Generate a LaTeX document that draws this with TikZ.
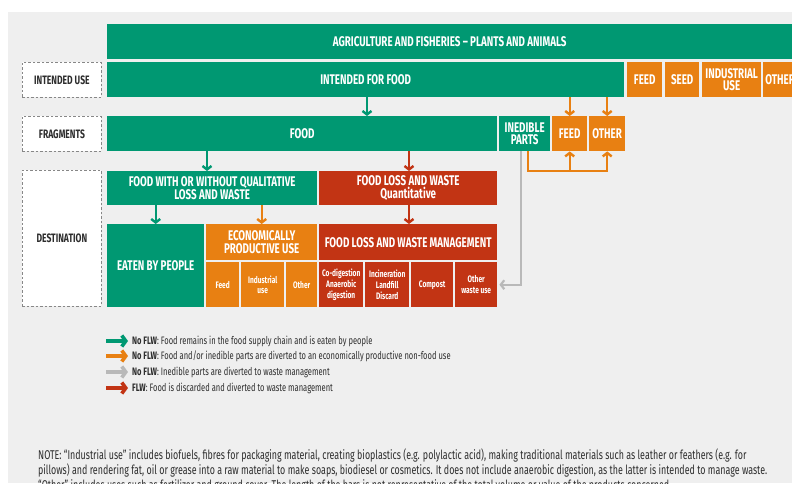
\documentclass[tikz,border=0pt]{standalone}
\usepackage{fontspec}
\setmainfont{Fira Sans}[FakeStretch=0.7]
\usetikzlibrary{arrows.meta}
\definecolor{fgreen}{RGB}{0,152,114}
\definecolor{forange}{RGB}{232,128,18}
\definecolor{fred}{RGB}{194,52,20}
\definecolor{bggray}{RGB}{239,239,239}
\definecolor{agray}{RGB}{185,185,185}
\definecolor{dgray}{RGB}{135,135,135}
\definecolor{txt}{RGB}{45,45,45}
\begin{document}
\begin{tikzpicture}[x=1pt,y=-1pt,
  bx/.style={anchor=north west, inner sep=0pt, text=white, align=center, font=\bfseries\fontsize{14}{12.5}\selectfont},
  gb/.style={bx, fill=fgreen},
  ob/.style={bx, fill=forange},
  rb/.style={bx, fill=fred},
  sm/.style={font=\bfseries\fontsize{9.4}{10.8}\selectfont},
  lab/.style={anchor=north west, inner sep=0pt, fill=white, draw=dgray, dash pattern=on 2.5pt off 2pt, line width=0.8pt, text=txt, font=\bfseries\fontsize{12.2}{12.5}\selectfont},
  arr/.style={line width=2.4pt, -{Straight Barb[length=3.5pt,width=9pt]}},
  garr/.style={arr, draw=fgreen},
  oarr/.style={arr, draw=forange},
  rarr/.style={arr, draw=fred},
  oline/.style={line width=2.4pt, draw=forange},
  grarr/.style={line width=2.2pt, draw=agray, -{Straight Barb[length=3.5pt,width=9pt]}},
  larr/.style={line width=3.6pt, -{Straight Barb[length=4pt,width=11pt]}},
  leg/.style={anchor=west, inner sep=0pt, text=txt, font=\fontsize{10.8}{12}\selectfont},
  note/.style={anchor=base west, inner sep=0pt, text=txt, font=\fontsize{12.7}{14}\selectfont}
]
\useasboundingbox (0,0) rectangle (792,483);
\fill[white] (0,0) rectangle (792,483);
\fill[bggray] (8,12) rectangle (792,483);

% row 1
\node[gb, minimum width=685pt, minimum height=35pt] (agri) at (107,24) {AGRICULTURE AND FISHERIES -- PLANTS AND ANIMALS};
% row 2
\node[lab, minimum width=79pt, minimum height=35pt] (iu) at (22,62) {INTENDED USE};
\node[gb, minimum width=517pt, minimum height=35pt] (ifood) at (107,62) {INTENDED FOR FOOD};
\node[ob, minimum width=35pt, minimum height=35pt] (feed1) at (627,62) {FEED};
\node[ob, minimum width=34pt, minimum height=35pt] (seed) at (665,62) {SEED};
\node[ob, minimum width=59pt, minimum height=35pt] (ind) at (702,62) {INDUSTRIAL\\USE};
\node[ob, minimum width=34pt, minimum height=35pt] (oth1) at (763,62) {OTHER};
% row 3
\node[lab, minimum width=79pt, minimum height=35pt] (fr) at (22,116) {FRAGMENTS};
\node[gb, minimum width=390pt, minimum height=35pt] (food) at (107,116) {FOOD};
\node[gb, minimum width=51pt, minimum height=35pt] (ined) at (499,116) {INEDIBLE\\PARTS};
\node[ob, minimum width=35pt, minimum height=35pt] (feed2) at (552,116) {FEED};
\node[ob, minimum width=36pt, minimum height=35pt] (oth2) at (589,116) {OTHER};
% row 4
\node[lab, minimum width=79pt, minimum height=136pt] (de) at (22,170) {DESTINATION};
\node[gb, minimum width=210pt, minimum height=34pt] (fww) at (107,171) {FOOD WITH OR WITHOUT QUALITATIVE\\LOSS AND WASTE};
\node[rb, minimum width=178pt, minimum height=34pt] (flq) at (319,171) {FOOD LOSS AND WASTE\\Quantitative};
% row 5
\node[gb, minimum width=97pt, minimum height=83pt] (eaten) at (107,224) {EATEN BY PEOPLE};
\node[ob, minimum width=111pt, minimum height=36pt] (econ) at (206,224) {ECONOMICALLY\\PRODUCTIVE USE};
\node[ob, sm, minimum width=33pt, minimum height=45pt] (efeed) at (206,262) {Feed};
\node[ob, sm, minimum width=43pt, minimum height=45pt] (eind) at (241,262) {Industrial\\use};
\node[ob, sm, minimum width=31pt, minimum height=45pt] (eoth) at (286,262) {Other};
\node[rb, minimum width=178pt, minimum height=36pt] (mgmt) at (319,224) {FOOD LOSS AND WASTE MANAGEMENT};
\node[rb, sm, minimum width=44pt, minimum height=45pt] (m1) at (319,262) {Co-digestion\\Anaerobic\\digestion};
\node[rb, sm, minimum width=44pt, minimum height=45pt] (m2) at (365,262) {Incineration\\Landfill\\Discard};
\node[rb, sm, minimum width=42pt, minimum height=45pt] (m3) at (411,262) {Compost};
\node[rb, sm, minimum width=42pt, minimum height=45pt] (m4) at (455,262) {Other\\waste use};

% helper x positions
\coordinate (x367) at (367,0);
\coordinate (x207) at (207,0);
\coordinate (x409) at (409,0);
\coordinate (x528) at (528,0);
\coordinate (x521) at (521,0);
\coordinate (y171) at (0,171);

% arrows
\draw[garr] (ifood.south -| x367) -- (food.north -| x367);
\draw[oarr] (ifood.south -| feed2) -- (feed2.north);
\draw[oarr] (ifood.south -| oth2) -- (oth2.north);
\draw[garr] (food.south -| x207) -- (fww.north -| x207);
\draw[rarr] (food.south -| x409) -- (flq.north -| x409);
\draw[garr] (fww.south -| eaten) -- (eaten.north);
\draw[oarr] (fww.south -| econ) -- (econ.north);
\draw[rarr] (flq.south -| x409) -- (mgmt.north -| x409);
% inedible parts bracket
\draw[oline, line join=miter] (ined.south -| x528) |- (oth2.south |- y171) -- ([yshift=1.2pt]oth2.south |- y171);
\draw[oarr] (oth2.south |- y171) -- (oth2.south);
\draw[oarr] (feed2.south |- y171) -- (feed2.south);
\draw[grarr, line join=miter] (ined.south -| x521) |- ([xshift=2pt]m4.east);

% legend
\node[leg] (t1) at (132,341) {\textbf{No FLW}: Food remains in the food supply chain and is eaten by people};
\node[leg] (t2) at (132,356) {\textbf{No FLW}: Food and/or inedible parts are diverted to an economically productive non-food use};
\node[leg] (t3) at (132,372) {\textbf{No FLW}: Inedible parts are diverted to waste management};
\node[leg] (t4) at (132,388) {\textbf{FLW}: Food is discarded and diverted to waste management};
\coordinate (l1) at (106,341);
\coordinate (l2) at (106,356);
\coordinate (l3) at (106,372);
\coordinate (l4) at (106,388);
\draw[larr, draw=fgreen] (l1) -- ([xshift=-4pt]t1.west);
\draw[larr, draw=forange] (l2) -- ([xshift=-4pt]t2.west);
\draw[larr, draw=agray] (l3) -- ([xshift=-4pt]t3.west);
\draw[larr, draw=fred] (l4) -- ([xshift=-4pt]t4.west);

% note
\node[note] (n1) at (38,459) {NOTE: “Industrial use” includes biofuels, fibres for packaging material, creating bioplastics (e.g. polylactic acid), making traditional materials such as leather or feathers (e.g. for};
\node[note] (n2) at (38,474) {pillows) and rendering fat, oil or grease into a raw material to make soaps, biodiesel or cosmetics. It does not include anaerobic digestion, as the latter is intended to manage waste.};
\node[note] (n3) at (38,489) {“Other” includes uses such as fertilizer and ground cover. The length of the bars is not representative of the total volume or value of the products concerned.};
\end{tikzpicture}
\end{document}
